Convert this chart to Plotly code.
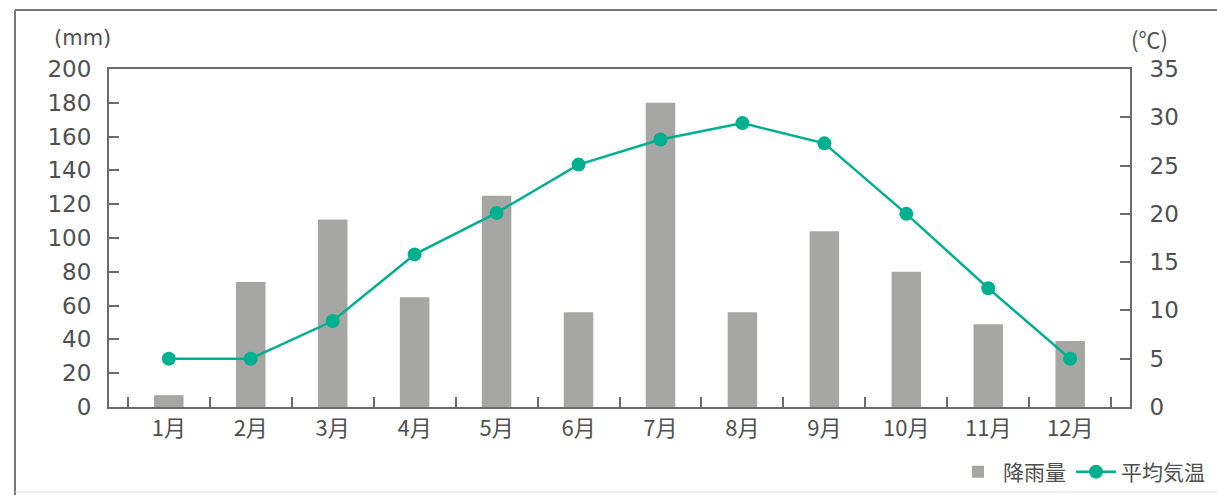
import plotly.graph_objects as go

months = ["1月", "2月", "3月", "4月", "5月", "6月", "7月", "8月", "9月", "10月", "11月", "12月"]
rainfall = [7, 74, 111, 65, 125, 56, 180, 56, 104, 80, 49, 39]
temperature = [5.0, 5.0, 8.9, 15.8, 20.1, 25.1, 27.7, 29.4, 27.3, 20.0, 12.3, 5.0]
rain_ticks = [0, 20, 40, 60, 80, 100, 120, 140, 160, 180, 200]
temp_ticks = [0, 5, 10, 15, 20, 25, 30, 35]

W, H = 1217, 495
L, R, T, B = 109, 1130, 69, 407
pw, ph = R - L, B - T

def px(x):
    return (x - L) / pw

def py(y):
    return (B - y) / ph

FONT = "DejaVu Sans, Noto Sans CJK JP"
JP = "Noto Sans CJK JP"
TXT = "#505050"
AX = "#6b6b6b"

fig = go.Figure()
fig.add_trace(go.Bar(
    x=months, y=rainfall, name="降雨量",
    marker=dict(color="#a6a7a5", line=dict(width=0)),
    yaxis="y",
))
fig.add_trace(go.Scatter(
    x=months, y=temperature, name="平均気温", mode="lines+markers",
    line=dict(color="#00b08f", width=2.5),
    marker=dict(color="#00b08f", size=14),
    yaxis="y2",
))

fig.update_layout(
    width=W, height=H,
    margin=dict(l=L, r=W - R, t=T, b=H - B, pad=0, autoexpand=False),
    paper_bgcolor="white", plot_bgcolor="white",
    font=dict(family=FONT, size=20, color=TXT),
    bargap=0.64,
    showlegend=True,
    legend=dict(orientation="h", x=px(1210), xanchor="right", y=py(472), yanchor="middle",
                font=dict(family=JP, size=21, color=TXT), bgcolor="rgba(0,0,0,0)",
                itemwidth=40, traceorder="normal"),
    xaxis=dict(
        type="category", tickson="boundaries", ticks="inside", ticklen=10, tickwidth=1.5,
        tickcolor=AX, showline=True, linecolor=AX, linewidth=2, mirror=True,
        showgrid=False, tickfont=dict(family=JP, size=22, color=TXT), ticklabelstandoff=1,
        automargin=False,
    ),
    yaxis=dict(
        range=[0, 200], tickvals=rain_ticks, ticks="inside", ticklen=10, tickwidth=1.5,
        tickcolor=AX, showline=True, linecolor=AX, linewidth=2, mirror=True,
        showgrid=False, zeroline=False, tickfont=dict(size=23, color=TXT),
        ticklabelstandoff=11, automargin=False,
    ),
    yaxis2=dict(
        range=[0, 35], tickvals=temp_ticks, ticks="inside", ticklen=10, tickwidth=1.5,
        tickcolor=AX, showline=True, linecolor=AX, linewidth=2,
        overlaying="y", side="right", showgrid=False, zeroline=False,
        tickfont=dict(size=23, color=TXT), ticklabelstandoff=13, automargin=False,
    ),
    annotations=[
        dict(text="(mm)", x=px(82), y=py(38), xref="paper", yref="paper",
             showarrow=False, font=dict(size=21, color=TXT), xanchor="center", yanchor="middle"),
        dict(text="(℃)", x=px(1149), y=py(38), xref="paper", yref="paper",
             showarrow=False, font=dict(family=JP, size=22, color=TXT), xanchor="center", yanchor="middle"),
    ],
    shapes=[
        dict(type="line", xref="paper", yref="paper", x0=px(15), x1=px(1230), y0=py(10), y1=py(10),
             line=dict(color="#777777", width=2)),
        dict(type="line", xref="paper", yref="paper", x0=px(15), x1=px(15), y0=py(10), y1=py(500),
             line=dict(color="#777777", width=2)),
        dict(type="line", xref="paper", yref="paper", x0=px(15), x1=px(1230), y0=py(492), y1=py(492),
             line=dict(color="#e2e2e2", width=1)),
    ],
)

fig.write_html("out.html", config={"displayModeBar": False},
               post_script="document.body.style.margin='0';document.body.style.overflow='hidden';")
